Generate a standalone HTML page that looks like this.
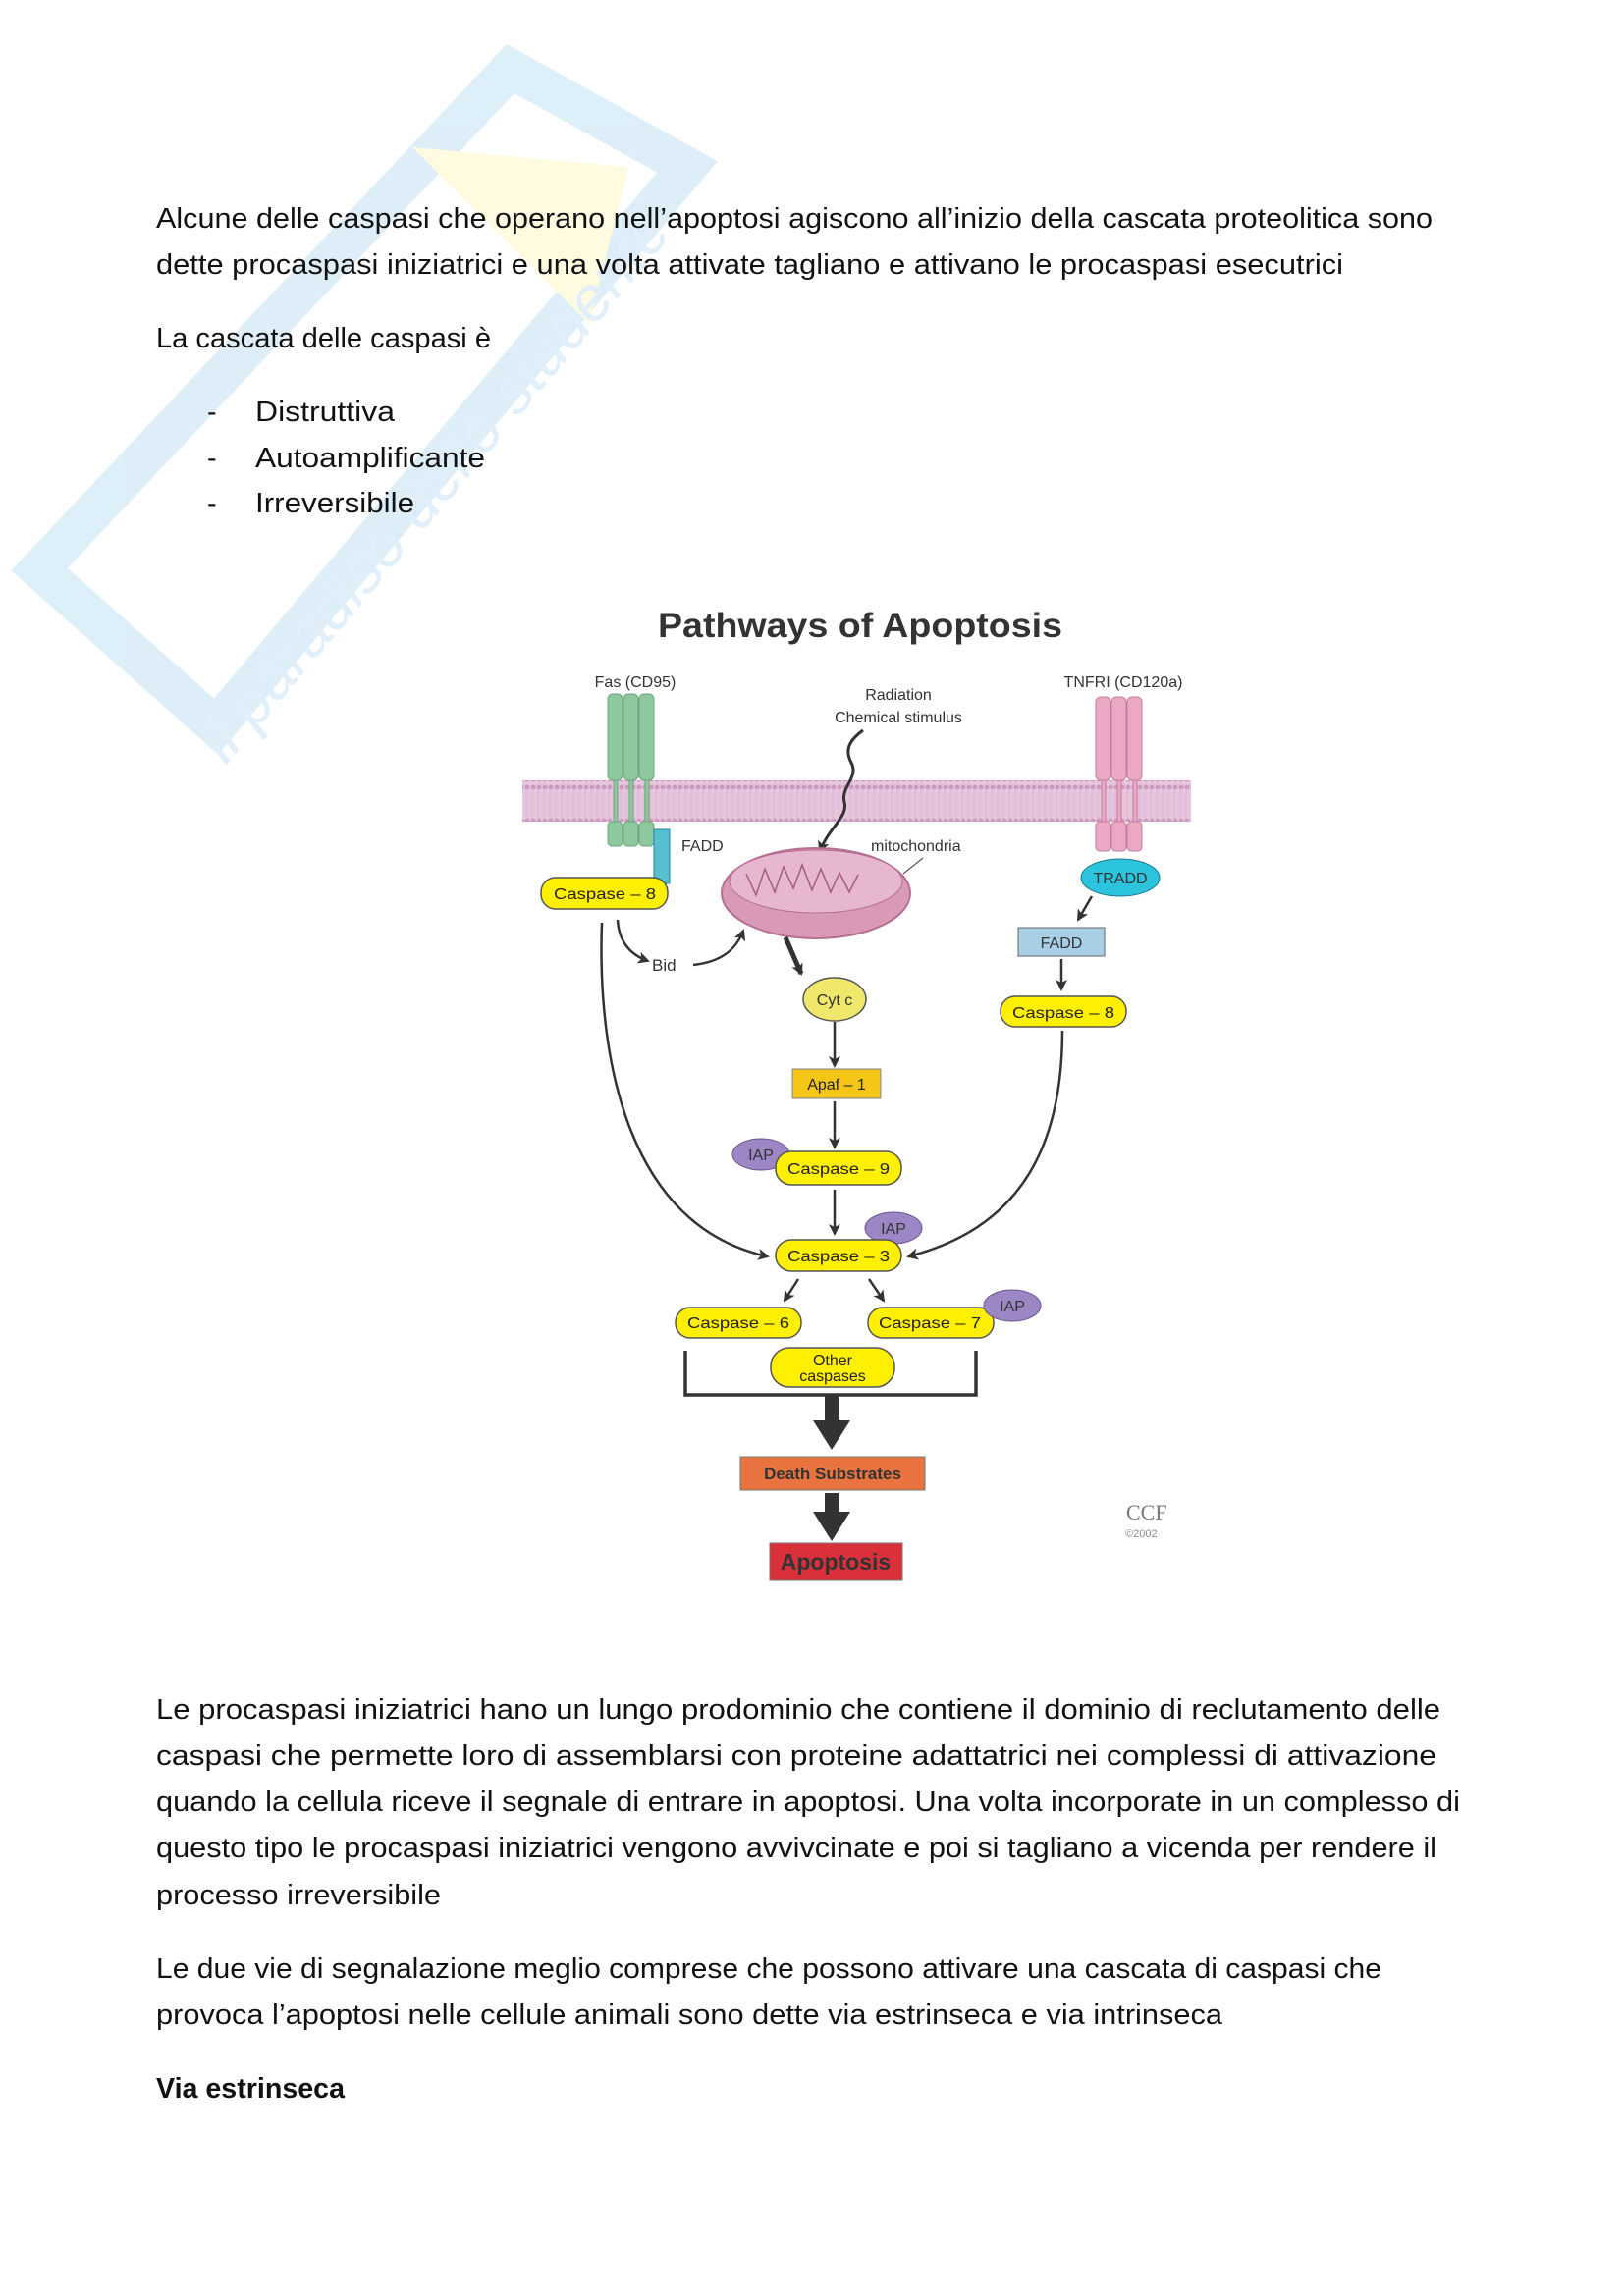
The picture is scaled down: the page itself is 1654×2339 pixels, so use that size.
<!DOCTYPE html>
<html><head><meta charset="utf-8"><style>
html,body{margin:0;padding:0;background:#fff}
svg{display:block}
.t{font-family:"Liberation Sans",sans-serif;font-size:29px;fill:#111}
.d{font-family:"Liberation Sans",sans-serif;fill:#333}
.c{font-family:"Liberation Sans",sans-serif;font-size:16px;fill:#222;text-anchor:middle}
</style></head><body>
<svg width="1654" height="2339" viewBox="0 0 1654 2339" xmlns="http://www.w3.org/2000/svg">
<defs>
<marker id="a" markerWidth="12" markerHeight="12" refX="10" refY="6" orient="auto" markerUnits="userSpaceOnUse"><path d="M0,0 L12,6 L0,12 L3,6 Z" fill="#333"/></marker>
<pattern id="mem" width="6" height="42" patternUnits="userSpaceOnUse"><rect width="6" height="42" fill="#e6c6dc"/><circle cx="3" cy="4" r="2.5" fill="#cf9ac0"/><circle cx="3" cy="38" r="2.5" fill="#cf9ac0"/><line x1="2" y1="7" x2="2" y2="35" stroke="#ddb0cf" stroke-width="1"/></pattern>
</defs>
<!-- watermark -->
<g opacity="0.35">
<polygon points="40,580 520,70 700,170 220,740" fill="none" stroke="#9fd0ee" stroke-width="40"/>
<polygon points="420,150 640,170 600,330" fill="#fff6a8"/>
<text x="0" y="0" transform="translate(230,780) rotate(-50)" font-family="Liberation Sans,sans-serif" font-size="64" fill="#a9d4f0" font-style="italic">il paradiso dello studente</text>
</g>
<!-- text -->
<text class="t" x="159" y="232" textLength="1300" lengthAdjust="spacingAndGlyphs">Alcune delle caspasi che operano nell’apoptosi agiscono all’inizio della cascata proteolitica sono</text>
<text class="t" x="159" y="279" textLength="1209" lengthAdjust="spacingAndGlyphs">dette procaspasi iniziatrici e una volta attivate tagliano e attivano le procaspasi esecutrici</text>
<text class="t" x="159" y="354" textLength="341" lengthAdjust="spacingAndGlyphs">La cascata delle caspasi è</text>
<text class="t" x="211" y="429">-</text><text class="t" x="260" y="429" textLength="142" lengthAdjust="spacingAndGlyphs">Distruttiva</text>
<text class="t" x="211" y="476">-</text><text class="t" x="260" y="476" textLength="234" lengthAdjust="spacingAndGlyphs">Autoamplificante</text>
<text class="t" x="211" y="522">-</text><text class="t" x="260" y="522" textLength="162" lengthAdjust="spacingAndGlyphs">Irreversibile</text>

<text class="t" x="159" y="1751" textLength="1308" lengthAdjust="spacingAndGlyphs">Le procaspasi iniziatrici hano un lungo prodominio che contiene il dominio di reclutamento delle</text>
<text class="t" x="159" y="1798" textLength="1304" lengthAdjust="spacingAndGlyphs">caspasi che permette loro di assemblarsi con proteine adattatrici nei complessi di attivazione</text>
<text class="t" x="159" y="1845" textLength="1328" lengthAdjust="spacingAndGlyphs">quando la cellula riceve il segnale di entrare in apoptosi. Una volta incorporate in un complesso di</text>
<text class="t" x="159" y="1892" textLength="1304" lengthAdjust="spacingAndGlyphs">questo tipo le procaspasi iniziatrici vengono avvivcinate e poi si tagliano a vicenda per rendere il</text>
<text class="t" x="159" y="1940" textLength="290" lengthAdjust="spacingAndGlyphs">processo irreversibile</text>
<text class="t" x="159" y="2015" textLength="1248" lengthAdjust="spacingAndGlyphs">Le due vie di segnalazione meglio comprese che possono attivare una cascata di caspasi che</text>
<text class="t" x="159" y="2062" textLength="1086" lengthAdjust="spacingAndGlyphs">provoca l’apoptosi nelle cellule animali sono dette via estrinseca e via intrinseca</text>
<text class="t" x="159" y="2137" font-weight="bold" textLength="192" lengthAdjust="spacingAndGlyphs">Via estrinseca</text>

<!-- diagram -->
<text class="d" x="876" y="649" font-size="35" font-weight="bold" text-anchor="middle" textLength="412" lengthAdjust="spacingAndGlyphs" fill="#3a3a3a">Pathways of Apoptosis</text>
<text class="d" x="647" y="700" font-size="16" text-anchor="middle">Fas (CD95)</text>
<text class="d" x="1144" y="700" font-size="16" text-anchor="middle">TNFRI (CD120a)</text>
<text class="d" x="915" y="713" font-size="16" text-anchor="middle">Radiation</text>
<text class="d" x="915" y="736" font-size="16" text-anchor="middle">Chemical stimulus</text>
<!-- membrane -->
<rect x="532" y="795" width="681" height="42" fill="url(#mem)"/>
<!-- green receptors -->
<g fill="#8ec89e" stroke="#6aa67c" stroke-width="1">
<rect x="619" y="707" width="15" height="88" rx="5"/><rect x="635" y="707" width="15" height="88" rx="5"/><rect x="651" y="707" width="15" height="88" rx="5"/>
<rect x="619" y="837" width="15" height="25" rx="4"/><rect x="635" y="837" width="15" height="25" rx="4"/><rect x="651" y="837" width="15" height="25" rx="4"/>
<rect x="625" y="795" width="4" height="42"/><rect x="641" y="795" width="4" height="42"/><rect x="657" y="795" width="4" height="42"/>
</g>
<rect x="666" y="845" width="16" height="55" fill="#56bfd2" stroke="#1a8aa0"/>
<text class="d" x="694" y="867" font-size="16">FADD</text>
<!-- pink receptors -->
<g fill="#eba8c4" stroke="#c47d9e" stroke-width="1">
<rect x="1116" y="710" width="15" height="85" rx="5"/><rect x="1132" y="710" width="15" height="85" rx="5"/><rect x="1148" y="710" width="15" height="85" rx="5"/>
<rect x="1116" y="837" width="15" height="30" rx="4"/><rect x="1132" y="837" width="15" height="30" rx="4"/><rect x="1148" y="837" width="15" height="30" rx="4"/>
<rect x="1122" y="795" width="4" height="42"/><rect x="1138" y="795" width="4" height="42"/><rect x="1154" y="795" width="4" height="42"/>
</g>
<!-- wavy -->
<path d="M879,744 C865,754 860,764 867,777 C875,792 856,802 860,817 C864,832 845,842 835,867" fill="none" stroke="#333" stroke-width="3" marker-end="url(#a)"/>
<!-- mitochondria -->
<ellipse cx="831" cy="910" rx="96" ry="46" fill="#d99ab8" stroke="#b66e92" stroke-width="2"/>
<ellipse cx="831" cy="898" rx="88" ry="32" fill="#e7b7cf" stroke="#b66e92"/>
<path d="M760,890 l10,22 l9,-27 l10,24 l9,-26 l10,22 l9,-24 l10,26 l9,-22 l10,24 l9,-20 l10,20 l9,-18" fill="none" stroke="#a45c80" stroke-width="1.5"/>
<text class="d" x="887" y="867" font-size="16">mitochondria</text>
<line x1="940" y1="874" x2="920" y2="890" stroke="#333"/>
<!-- caspase8 left -->
<rect x="551" y="894" width="129" height="32" rx="15" fill="#ffef00" stroke="#555" stroke-width="1.5"/>
<text class="c" x="616" y="916" textLength="104" lengthAdjust="spacingAndGlyphs">Caspase – 8</text>
<!-- TRADD -->
<ellipse cx="1141" cy="894" rx="40" ry="19" fill="#2bc4dc" stroke="#1a7a90"/>
<text class="d" x="1141" y="900" font-size="16" text-anchor="middle" fill="#1a5a6a">TRADD</text>
<line x1="1112" y1="913" x2="1098" y2="937" stroke="#333" stroke-width="2.5" marker-end="url(#a)"/>
<rect x="1037" y="945" width="88" height="29" fill="#a9cfe6" stroke="#666"/>
<text class="d" x="1081" y="966" font-size="16" text-anchor="middle">FADD</text>
<line x1="1081" y1="977" x2="1081" y2="1008" stroke="#333" stroke-width="2.5" marker-end="url(#a)"/>
<rect x="1019" y="1015" width="128" height="31" rx="15" fill="#ffef00" stroke="#555" stroke-width="1.5"/>
<text class="c" x="1083" y="1037" textLength="104" lengthAdjust="spacingAndGlyphs">Caspase – 8</text>
<!-- Bid -->
<path d="M629,937 C630,957 640,972 660,979" fill="none" stroke="#333" stroke-width="2.5" marker-end="url(#a)"/>
<text class="d" x="664" y="989" font-size="17">Bid</text>
<path d="M706,983 C735,980 750,967 757,948" fill="none" stroke="#333" stroke-width="2.5" marker-end="url(#a)"/>
<!-- mito to cytc -->
<path d="M800,955 L816,992" stroke="#333" stroke-width="5" marker-end="url(#a)"/>
<ellipse cx="850" cy="1018" rx="32" ry="22" fill="#f0e86a" stroke="#555" stroke-width="1.5"/>
<text class="d" x="850" y="1024" font-size="16" text-anchor="middle" fill="#222">Cyt c</text>
<line x1="850" y1="1041" x2="850" y2="1086" stroke="#333" stroke-width="2.5" marker-end="url(#a)"/>
<rect x="807" y="1089" width="90" height="30" fill="#f5c518" stroke="#888"/>
<text class="c" x="852" y="1110">Apaf – 1</text>
<line x1="850" y1="1122" x2="850" y2="1169" stroke="#333" stroke-width="2.5" marker-end="url(#a)"/>
<ellipse cx="775" cy="1176" rx="29" ry="16" fill="#9d86c4" stroke="#6b568f"/>
<text class="d" x="775" y="1182" font-size="16" text-anchor="middle" fill="#fff">IAP</text>
<rect x="790" y="1173" width="128" height="34" rx="16" fill="#ffef00" stroke="#555" stroke-width="1.5"/>
<text class="c" x="854" y="1196" textLength="104" lengthAdjust="spacingAndGlyphs">Caspase – 9</text>
<line x1="850" y1="1212" x2="850" y2="1257" stroke="#333" stroke-width="2.5" marker-end="url(#a)"/>
<ellipse cx="910" cy="1251" rx="29" ry="16" fill="#9d86c4" stroke="#6b568f"/>
<text class="d" x="910" y="1257" font-size="16" text-anchor="middle" fill="#fff">IAP</text>
<rect x="790" y="1263" width="128" height="32" rx="16" fill="#ffef00" stroke="#555" stroke-width="1.5"/>
<text class="c" x="854" y="1285" textLength="104" lengthAdjust="spacingAndGlyphs">Caspase – 3</text>
<!-- big curves -->
<path d="M613,940 C608,1080 640,1250 782,1280" fill="none" stroke="#333" stroke-width="2.5" marker-end="url(#a)"/>
<path d="M1082,1050 C1082,1160 1045,1250 925,1280" fill="none" stroke="#333" stroke-width="2.5" marker-end="url(#a)"/>
<line x1="813" y1="1303" x2="799" y2="1325" stroke="#333" stroke-width="2.5" marker-end="url(#a)"/>
<line x1="885" y1="1303" x2="900" y2="1325" stroke="#333" stroke-width="2.5" marker-end="url(#a)"/>
<rect x="688" y="1332" width="128" height="31" rx="15" fill="#ffef00" stroke="#555" stroke-width="1.5"/>
<text class="c" x="752" y="1353" textLength="104" lengthAdjust="spacingAndGlyphs">Caspase – 6</text>
<rect x="884" y="1332" width="128" height="31" rx="15" fill="#ffef00" stroke="#555" stroke-width="1.5"/>
<text class="c" x="947" y="1353" textLength="104" lengthAdjust="spacingAndGlyphs">Caspase – 7</text>
<ellipse cx="1031" cy="1330" rx="29" ry="16" fill="#9d86c4" stroke="#6b568f"/>
<text class="d" x="1031" y="1336" font-size="16" text-anchor="middle" fill="#fff">IAP</text>
<rect x="785" y="1373" width="126" height="40" rx="19" fill="#ffef00" stroke="#555" stroke-width="1.5"/>
<text class="c" x="848" y="1391" font-size="15">Other</text>
<text class="c" x="848" y="1407" font-size="15">caspases</text>
<path d="M698,1376 V1421 H994 V1376" fill="none" stroke="#333" stroke-width="3.5"/>
<path d="M840,1421 V1447 H828 L847,1477 L866,1447 H854 V1421 Z" fill="#333"/>
<rect x="754" y="1484" width="188" height="34" fill="#e8733e" stroke="#777"/>
<text class="d" x="848" y="1507" font-size="17" font-weight="bold" text-anchor="middle" fill="#fde">Death Substrates</text>
<path d="M840,1521 V1540 H828 L847,1570 L866,1540 H854 V1521 Z" fill="#333"/>
<rect x="784" y="1572" width="135" height="38" fill="#d9303a" stroke="#777"/>
<text class="d" x="851" y="1599" font-size="23" font-weight="bold" text-anchor="middle" fill="#ffe94a">Apoptosis</text>
<text x="1147" y="1548" font-family="Liberation Serif,serif" font-size="22" fill="#777">CCF</text>
<text x="1146" y="1566" font-family="Liberation Sans,sans-serif" font-size="11" fill="#888">©2002</text>
</svg>
</body></html>
